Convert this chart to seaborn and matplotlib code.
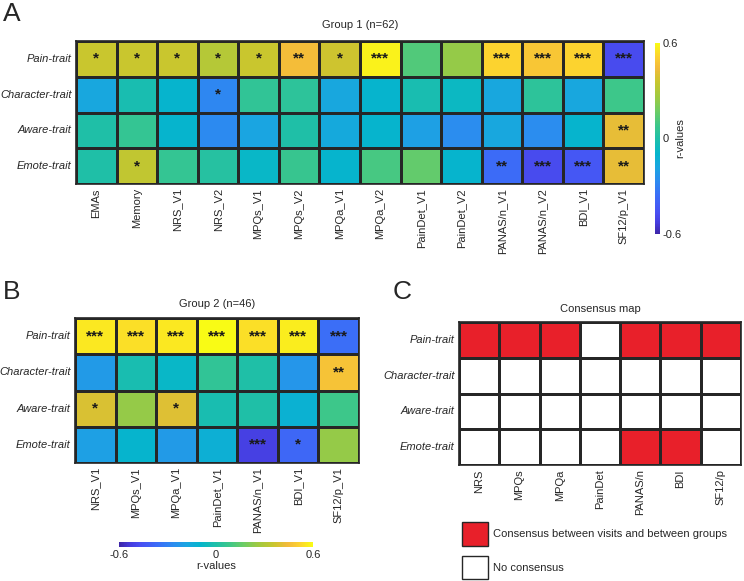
import matplotlib
matplotlib.use("Agg")
import matplotlib.pyplot as plt
import numpy as np
import pandas as pd
import seaborn as sns
from matplotlib.colors import LinearSegmentedColormap, ListedColormap
from matplotlib.patches import Patch

# ---- data -------------------------------------------------------------
TRAITS = ["Pain-trait", "Character-trait", "Aware-trait", "Emote-trait"]

G1_MEASURES = ["EMAs", "Memory", "NRS_V1", "NRS_V2", "MPQs_V1", "MPQs_V2",
               "MPQa_V1", "MPQa_V2", "PainDet_V1", "PainDet_V2",
               "PANAS/n_V1", "PANAS/n_V2", "BDI_V1", "SF12/p_V1"]
G1_PAIN = [0.36, 0.36, 0.36, 0.31, 0.36, 0.45, 0.37, 0.58, 0.12, 0.24, 0.52, 0.48, 0.52, -0.48]
G1_CHARACTER = [-0.17, -0.02, -0.10, -0.28, 0.05, 0.04, -0.17, -0.10, -0.02, -0.07, -0.17, 0.04, -0.17, 0.08]
G1_AWARE = [0.00, 0.06, -0.10, -0.27, -0.18, 0.00, -0.16, -0.10, -0.20, -0.26, -0.17, -0.26, -0.10, 0.42]
G1_EMOTE = [0.00, 0.34, 0.06, 0.02, -0.08, 0.07, -0.10, 0.10, 0.15, -0.10, -0.37, -0.48, -0.44, 0.42]
G1_STARS = [
    ["*", "*", "*", "*", "*", "**", "*", "***", "", "", "***", "***", "***", "***"],
    ["", "", "", "*", "", "", "", "", "", "", "", "", "", ""],
    ["", "", "", "", "", "", "", "", "", "", "", "", "", "**"],
    ["", "*", "", "", "", "", "", "", "", "", "**", "***", "***", "**"],
]

G2_MEASURES = ["NRS_V1", "MPQs_V1", "MPQa_V1", "PainDet_V1", "PANAS/n_V1", "BDI_V1", "SF12/p_V1"]
G2_PAIN = [0.56, 0.54, 0.56, 0.60, 0.54, 0.57, -0.36]
G2_CHARACTER = [-0.22, -0.02, -0.08, 0.05, 0.00, -0.23, 0.47]
G2_AWARE = [0.39, 0.24, 0.40, -0.02, 0.00, -0.12, 0.08]
G2_EMOTE = [-0.20, -0.10, -0.22, -0.13, -0.52, -0.38, 0.24]
G2_STARS = [
    ["***", "***", "***", "***", "***", "***", "***"],
    ["", "", "", "", "", "", "**"],
    ["*", "", "*", "", "", "", ""],
    ["", "", "", "", "***", "*", ""],
]

C_MEASURES = ["NRS", "MPQs", "MPQa", "PainDet", "PANAS/n", "BDI", "SF12/p"]
C_PAIN = [1, 1, 1, 0, 1, 1, 1]
C_CHARACTER = [0, 0, 0, 0, 0, 0, 0]
C_AWARE = [0, 0, 0, 0, 0, 0, 0]
C_EMOTE = [0, 0, 0, 0, 1, 1, 0]

# ---- style ------------------------------------------------------------
sns.set_style("white")
plt.rcParams["font.family"] = ["Liberation Sans", "DejaVu Sans"]
plt.rcParams["font.size"] = 8

# parula-like colormap (MATLAB default)
PARULA = LinearSegmentedColormap.from_list("parula", [
    (0.00, (0.2422, 0.1504, 0.6603)),
    (0.06, (0.2750, 0.2400, 0.8800)),
    (0.11, (0.2850, 0.3100, 0.9500)),
    (0.20, (0.2300, 0.4300, 0.9700)),
    (0.28, (0.1700, 0.5500, 0.9400)),
    (0.35, (0.1000, 0.6500, 0.8800)),
    (0.42, (0.0200, 0.7100, 0.8000)),
    (0.50, (0.1200, 0.7500, 0.6600)),
    (0.57, (0.2400, 0.7800, 0.5400)),
    (0.64, (0.4200, 0.8000, 0.4000)),
    (0.72, (0.6300, 0.7900, 0.2500)),
    (0.80, (0.7900, 0.7750, 0.1800)),
    (0.87, (0.9500, 0.7300, 0.2300)),
    (0.93, (0.9900, 0.8200, 0.1900)),
    (1.00, (0.9769, 0.9839, 0.0805)),
])
EDGE = "#262626"
RED = "#e8202a"
W, H = 744, 581


def box(x0, y0, x1, y1):
    return [x0 / W, 1 - y1 / H, (x1 - x0) / W, (y1 - y0) / H]


def draw_heat(ax, df, stars=None, cmap=PARULA, vmin=-0.6, vmax=0.6, cbar_ax=None, cbar_kws=None):
    sns.heatmap(df, ax=ax, cmap=cmap, vmin=vmin, vmax=vmax,
                annot=stars if stars is not None else False, fmt="",
                annot_kws={"color": "#1a1a1a", "fontsize": 11, "fontweight": "bold"},
                linewidths=1.0, linecolor=EDGE,
                cbar=cbar_ax is not None, cbar_ax=cbar_ax, cbar_kws=cbar_kws or {})
    for sp in ax.spines.values():
        sp.set_visible(True)
        sp.set_color(EDGE)
        sp.set_linewidth(1.2)
    ax.tick_params(length=0, pad=3, labelsize=8)
    ax.set_xticklabels(ax.get_xticklabels(), rotation=90)
    ax.set_yticklabels(ax.get_yticklabels(), rotation=0, fontstyle="italic")
    ax.set_xlabel("")
    ax.set_ylabel("")
    if cbar_ax is not None:
        ax.collections[0].colorbar.outline.set_visible(False)


fig = plt.figure(figsize=(7.44, 5.81), dpi=100)

# ---- panel A ----------------------------------------------------------
g1 = pd.DataFrame([G1_PAIN, G1_CHARACTER, G1_AWARE, G1_EMOTE], index=TRAITS, columns=G1_MEASURES)
axA = fig.add_axes(box(76, 41, 644, 184))
caxA = fig.add_axes(box(655, 43, 660, 234))
draw_heat(axA, g1, np.array(G1_STARS), cbar_ax=caxA)
axA.set_title("Group 1 (n=62)", fontsize=8, pad=9)
caxA.set_yticks([-0.6, 0, 0.6])
caxA.set_yticklabels(["-0.6", "0", "0.6"])
caxA.tick_params(length=0, pad=2, labelsize=8)
caxA.set_ylabel("r-values", fontsize=8, labelpad=-5)

# ---- panel B ----------------------------------------------------------
g2 = pd.DataFrame([G2_PAIN, G2_CHARACTER, G2_AWARE, G2_EMOTE], index=TRAITS, columns=G2_MEASURES)
axB = fig.add_axes(box(75, 318, 359, 463))
caxB = fig.add_axes(box(119, 542, 313, 547))
draw_heat(axB, g2, np.array(G2_STARS), cbar_ax=caxB, cbar_kws={"orientation": "horizontal"})
axB.set_title("Group 2 (n=46)", fontsize=8, pad=8)
caxB.set_xticks([-0.6, 0, 0.6])
caxB.set_xticklabels(["-0.6", "0", "0.6"])
caxB.tick_params(length=0, pad=2, labelsize=8)
caxB.set_xlabel("r-values", fontsize=8, labelpad=1)

# ---- panel C ----------------------------------------------------------
cons = pd.DataFrame([C_PAIN, C_CHARACTER, C_AWARE, C_EMOTE], index=TRAITS, columns=C_MEASURES)
axC = fig.add_axes(box(459, 322, 741, 465))
draw_heat(axC, cons, cmap=ListedColormap(["white", RED]), vmin=0, vmax=1)
axC.set_title("Consensus map", fontsize=8, pad=7)

handles = [Patch(facecolor=RED, edgecolor=EDGE, linewidth=1.0),
           Patch(facecolor="white", edgecolor=EDGE, linewidth=1.0)]
fig.legend(handles, ["Consensus between visits and between groups", "No consensus"],
           loc="upper left", bbox_to_anchor=(452 / W, 1 - 512 / H), frameon=False,
           handlelength=2.3, handleheight=2.9, handletextpad=0.5, labelspacing=0.9, fontsize=8)

# ---- panel letters ----------------------------------------------------
for letter, x, y in [("A", 3, 2), ("B", 3, 280), ("C", 393, 280)]:
    fig.text(x / W, 1 - y / H, letter, fontsize=19, va="top", ha="left")

fig.savefig("out.png", dpi=100)
